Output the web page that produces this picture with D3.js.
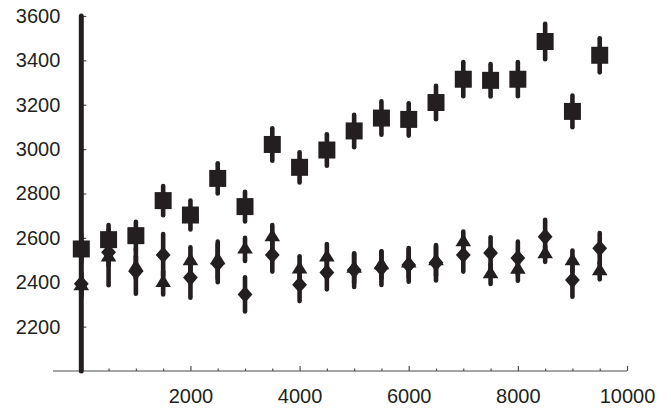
<!DOCTYPE html>
<html>
<head>
<meta charset="utf-8">
<script src="https://cdn.jsdelivr.net/npm/d3@7"></script>
<style>
html, body { margin: 0; padding: 0; background: #fff; }
svg { display: block; }
text { font-family: "Liberation Sans", Arial, sans-serif; }
</style>
</head>
<body>
<svg id="chart" width="671" height="411"></svg>
<script>
const xValues = [0, 500, 1000, 1500, 2000, 2500, 3000, 3500, 4000, 4500, 5000, 5500, 6000, 6500, 7000, 7500, 8000, 8500, 9000, 9500];
const squareMean = [2550, 2592, 2610, 2768, 2703, 2868, 2741, 3021, 2918, 2996, 3082, 3140, 3134, 3210, 3315, 3310, 3315, 3485, 3170, 3423];
const squareErr = [60, 66, 63, 66, 65, 68, 67, 73, 68, 71, 73, 75, 73, 75, 77, 73, 77, 80, 71, 77];
const diamondMean = [2393, 2535, 2448, 2523, 2421, 2485, 2345, 2523, 2389, 2444, 2455, 2464, 2478, 2488, 2523, 2532, 2509, 2605, 2410, 2553];
const diamondErr = [50, 60, 100, 94, 91, 85, 77, 75, 74, 76, 76, 76, 76, 80, 75, 71, 74, 77, 75, 69];
const triangleMean = [2383, 2512, 2467, 2398, 2496, 2500, 2548, 2604, 2458, 2512, 2462, 2478, 2485, 2495, 2581, 2437, 2457, 2527, 2496, 2451];
const triangleErr = [50, 125, 50, 53, 61, 83, 52, 54, 59, 60, 65, 60, 65, 66, 47, 45, 50, 35, 47, 38];
const xTickLabels = [2000, 4000, 6000, 8000, 10000];
const xMinorTicks = [500, 1000, 1500, 2500, 3000, 3500, 4500, 5000, 5500, 6500, 7000, 7500, 8500, 9000, 9500];
const yTickLabels = [2200, 2400, 2600, 2800, 3000, 3200, 3400, 3600];

const ink = "#231f20";
const svg = d3.select("#chart");
const x = d3.scaleLinear().domain([0, 10000]).range([81.3, 627]);
const y = d3.scaleLinear().domain([2000, 3600]).range([371, 16]);

// x axis line (extends left of origin)
svg.append("line")
  .attr("x1", 53).attr("x2", x(10000))
  .attr("y1", y(2000)).attr("y2", y(2000))
  .attr("stroke", "#4d4d4f").attr("stroke-width", 1.2);

// x axis major ticks + labels
const xAxis = d3.axisBottom(x).tickValues(xTickLabels).tickSize(-5).tickSizeOuter(0)
  .tickPadding(18).tickFormat(d3.format("d"));
const gx = svg.append("g").attr("transform", `translate(0,${y(2000)})`).call(xAxis);
gx.select(".domain").remove();
gx.selectAll(".tick line").attr("stroke", "#4d4d4f").attr("stroke-width", 1.2);
gx.selectAll(".tick text").attr("fill", ink).attr("font-size", 20)
  .style("font-family", "'Liberation Sans', Arial, sans-serif");

// x minor ticks
const xMinor = d3.axisBottom(x).tickValues(xMinorTicks).tickSize(-2.5).tickFormat("");
const gxm = svg.append("g").attr("transform", `translate(0,${y(2000)})`).call(xMinor);
gxm.select(".domain").remove();
gxm.selectAll(".tick line").attr("stroke", "#4d4d4f").attr("stroke-width", 1.2);

// y axis ticks + labels
const yAxis = d3.axisLeft(y).tickValues(yTickLabels).tickSize(-5).tickSizeOuter(0)
  .tickPadding(21).tickFormat(d3.format("d"));
const gy = svg.append("g").attr("transform", `translate(${x(0)},0)`).call(yAxis);
gy.select(".domain").remove();
gy.selectAll(".tick line").attr("stroke", "#4d4d4f").attr("stroke-width", 1.2);
gy.selectAll(".tick text").attr("fill", ink).attr("font-size", 20)
  .style("font-family", "'Liberation Sans', Arial, sans-serif");

// thick y axis line
svg.append("line")
  .attr("x1", x(0)).attr("x2", x(0))
  .attr("y1", y(3600)).attr("y2", y(2000))
  .attr("stroke", ink).attr("stroke-width", 5).attr("stroke-linecap", "round");

function makeSeries(means, errs) {
  return xValues.map((xv, i) => ({ x: xv, v: means[i], e: errs[i] }));
}

const series = [
  { data: makeSeries(triangleMean, triangleErr), shape: "triangle" },
  { data: makeSeries(diamondMean, diamondErr), shape: "diamond" },
  { data: makeSeries(squareMean, squareErr), shape: "square" }
];

const shapes = {
  square: "M-8.5,-8.5H8.5V8.5H-8.5Z",
  diamond: "M0,-8.4L7.4,0L0,8.4L-7.4,0Z",
  triangle: "M0,-8.5L7.8,4.2L-7.8,4.2Z"
};

series.forEach(s => {
  const g = svg.append("g");
  g.selectAll("line.err").data(s.data).join("line")
    .attr("class", "err")
    .attr("x1", d => x(d.x)).attr("x2", d => x(d.x))
    .attr("y1", d => y(d.v - d.e)).attr("y2", d => y(d.v + d.e))
    .attr("stroke", ink).attr("stroke-width", 4.6).attr("stroke-linecap", "round");
  g.selectAll("path.mk").data(s.data).join("path")
    .attr("class", "mk")
    .attr("d", shapes[s.shape])
    .attr("transform", d => `translate(${x(d.x)},${y(d.v)})`)
    .attr("fill", ink);
});
</script>
</body>
</html>
